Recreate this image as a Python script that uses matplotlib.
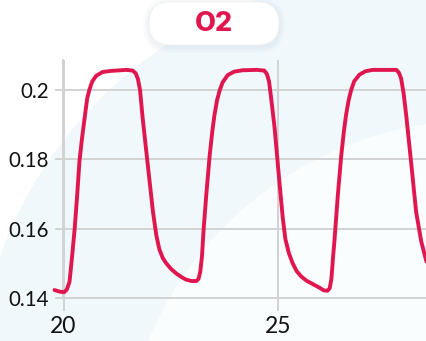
import matplotlib
matplotlib.use("Agg")
import matplotlib.pyplot as plt
from matplotlib.patches import Ellipse, FancyBboxPatch

# Data
time = [19.79, 19.92, 20.02, 20.08, 20.14, 20.20, 20.26, 20.32, 20.37, 20.43,
        20.49, 20.55, 20.60, 20.67, 20.76, 20.91, 21.10, 21.46, 21.61, 21.68,
        21.73, 21.78, 21.84, 21.96, 22.08, 22.16, 22.23, 22.31, 22.39, 22.50,
        22.62, 22.75, 22.85, 22.98, 23.09, 23.14, 23.18, 23.22, 23.26, 23.32,
        23.40, 23.46, 23.51, 23.57, 23.63, 23.70, 23.82, 23.97, 24.17, 24.50,
        24.67, 24.73, 24.78, 24.84, 24.91, 25.02, 25.10, 25.16, 25.24, 25.33,
        25.42, 25.52, 25.65, 25.80, 25.95, 26.05, 26.14, 26.19, 26.23, 26.27,
        26.30, 26.38, 26.46, 26.52, 26.57, 26.63, 26.69, 26.76, 26.88, 27.02,
        27.19, 27.74, 27.80, 27.85, 27.91, 27.97, 28.09, 28.20, 28.32, 28.44]
o2 = [0.1423, 0.1418, 0.1417, 0.1425, 0.1447, 0.1520, 0.1600, 0.1700, 0.1793, 0.1860,
      0.1918, 0.1975, 0.2000, 0.2025, 0.2041, 0.2052, 0.2055, 0.2058, 0.2056, 0.2048,
      0.2032, 0.2000, 0.1920, 0.1784, 0.1649, 0.1580, 0.1540, 0.1515, 0.1500, 0.1484,
      0.1471, 0.1460, 0.1453, 0.1449, 0.1449, 0.1455, 0.1475, 0.1520, 0.1600, 0.1697,
      0.1812, 0.1880, 0.1927, 0.1970, 0.1998, 0.2022, 0.2043, 0.2053, 0.2057, 0.2058,
      0.2056, 0.2046, 0.2025, 0.1965, 0.1890, 0.1736, 0.1630, 0.1570, 0.1530, 0.1500,
      0.1478, 0.1463, 0.1450, 0.1440, 0.1430, 0.1422, 0.1421, 0.1428, 0.1455, 0.1520,
      0.1563, 0.1697, 0.1812, 0.1880, 0.1927, 0.1970, 0.2000, 0.2025, 0.2044, 0.2054,
      0.2058, 0.2058, 0.2050, 0.2034, 0.1990, 0.1927, 0.1784, 0.1649, 0.1563, 0.1505]
xticks = [20, 25]
yticks = [0.14, 0.16, 0.18, 0.2]
ytick_labels = ["0.14", "0.16", "0.18", "0.2"]
title = "O2"

W, H = 427, 341
fig = plt.figure(figsize=(W / 100, H / 100), dpi=100)
fig.patch.set_facecolor("white")

# background decoration (figure pixel coords)
bg = fig.add_axes([0, 0, 1, 1], zorder=0)
bg.set_xlim(0, W)
bg.set_ylim(H, 0)
bg.axis("off")
bg.add_patch(Ellipse((400, 400), 850, 850, facecolor="#f0f8fc", edgecolor="none"))
bg.add_patch(Ellipse((480, 480), 720, 720, facecolor="#fafdfe", edgecolor="none"))
# soft shadow of the title pill
for i, a in enumerate([0.05, 0.05, 0.05]):
    p = 2 + 2 * i
    bg.add_patch(FancyBboxPatch((149 - p, 2 - p + 2), 130 + 2 * p, 43 + 2 * p,
                                boxstyle="round,pad=0,rounding_size=%g" % (21.5 + p),
                                facecolor="#9db4c0", edgecolor="none", alpha=a))
bg.add_patch(FancyBboxPatch((149, 2), 130, 43, boxstyle="round,pad=0,rounding_size=21.5",
                            facecolor="white", edgecolor="#eef2f4", lw=0.6))
bg.text(214, 24, title, ha="center", va="center", fontsize=19.5, fontweight="heavy",
        color="#e0174f", family=["Inter", "DejaVu Sans"])

left = 63.5 / W
bottom = (H - 298) / H
top = (H - 60) / H
ax = fig.add_axes([left, bottom, 1 - left, top - bottom], zorder=1)
ax.patch.set_alpha(0)
ax.set_xlim(20, 20 + (W - 63.5) / 43.0)
ax.set_ylim(0.14, 0.2 + 30 / 3467)

grid_c = "#d2d2d2"
ax.plot(time, o2, color="#e0174f", lw=2.8, clip_on=False, solid_joinstyle="round",
        solid_capstyle="round", zorder=3)
ax.set_xticks(xticks)
ax.set_yticks(yticks)
ax.set_yticklabels(ytick_labels)
ax.grid(True, color=grid_c, lw=1.4)
for s in ["top", "right"]:
    ax.spines[s].set_visible(False)
for s in ["left", "bottom"]:
    ax.spines[s].set_color(grid_c)
    ax.spines[s].set_linewidth(1.4)
ax.tick_params(axis="y", length=6, width=1.4, color=grid_c, pad=4.5, labelsize=14.8)
ax.tick_params(axis="x", length=9, width=1.4, color=grid_c, pad=4, labelsize=16.5)
for lab in ax.get_xticklabels() + ax.get_yticklabels():
    lab.set_family(["Lato", "DejaVu Sans"])
    lab.set_color("#111111")

fig.savefig("out.png", dpi=100)
